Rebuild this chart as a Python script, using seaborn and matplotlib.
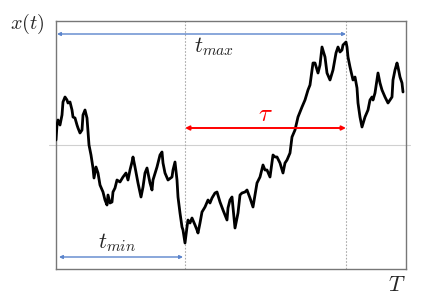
import numpy as np
import pandas as pd
import matplotlib
matplotlib.use("Agg")
import matplotlib.pyplot as plt
import seaborn as sns

# path: t (time), x (position)
t = [0, 1, 2, 4, 6, 7, 9, 11, 12, 14,
     16, 17, 19, 21, 22, 24, 26, 27, 29, 31,
     32, 33, 35, 37, 38, 40, 42, 44, 47, 49,
     51, 52, 54, 56, 57, 59, 61, 64, 67, 70,
     72, 74, 76, 77, 79, 82, 85, 87, 89, 91,
     92, 94, 96, 97, 101, 104, 106, 107, 109, 112,
     116, 117, 119, 121, 122, 124, 126, 127, 129, 131,
     132, 134, 136, 139, 141, 142, 144, 146, 149, 152,
     154, 156, 159, 161, 164, 167, 169, 171, 172, 174,
     176, 179, 182, 184, 186, 189, 191, 194, 197, 199,
     201, 204, 207, 209, 211, 214, 217, 219, 221, 224,
     227, 229, 231, 234, 236, 239, 242, 246, 249, 252,
     254, 256, 257, 259, 262, 264, 266, 269, 271, 274,
     277, 280, 282, 284, 286, 287, 290, 291, 292, 294,
     297, 299, 301, 302, 304, 306, 309, 312, 314, 316,
     317, 319, 321, 322, 324, 326, 329, 332, 334, 336,
     337, 339, 341, 342, 344, 346, 347]
x = [5, 20, 25, 20, 30, 43, 48, 45, 42, 43,
     35, 28, 27, 20, 17, 12, 15, 30, 35, 27,
     13, 0, -10, -23, -33, -22, -28, -40, -47, -55,
     -60, -50, -58, -57, -47, -43, -35, -37, -32, -28,
     -35, -25, -17, -12, -22, -38, -52, -42, -28, -23,
     -28, -38, -45, -35, -22, -10, -7, -18, -28, -35,
     -32, -25, -17, -35, -52, -68, -82, -85, -98, -82,
     -75, -78, -73, -80, -85, -88, -78, -67, -62, -55,
     -58, -53, -48, -47, -57, -65, -70, -75, -63, -55,
     -52, -83, -68, -50, -48, -47, -45, -53, -62, -50,
     -38, -32, -20, -25, -25, -32, -10, -12, -12, -18,
     -28, -18, -15, -8, 8, 15, 28, 38, 45, 55,
     60, 75, 82, 82, 72, 80, 98, 88, 72, 65,
     75, 92, 98, 93, 95, 100, 103, 98, 88, 78,
     65, 68, 57, 42, 28, 18, 28, 35, 45, 48,
     45, 52, 65, 72, 62, 55, 48, 42, 45, 48,
     65, 75, 82, 78, 68, 62, 53]

t_min = 129
t_max = 290
T_end = 350

df = pd.DataFrame({"t": t, "x": x})

sns.set_style("white")
plt.rcParams["mathtext.fontset"] = "cm"

fig = plt.figure(figsize=(4.36, 3.07), dpi=100)
ax = fig.add_axes([56 / 436, 38 / 307, 350 / 436, 248 / 307])

# zero line, a bit wider than the box
ax.plot([-7, T_end + 4], [0, 0], color="#d0d0d0", lw=0.8, clip_on=False, zorder=1)
ax.axvline(t_min, color="#aaaaaa", ls=(0, (1.5, 1.5)), lw=0.8, zorder=1)
ax.axvline(t_max, color="#aaaaaa", ls=(0, (1.5, 1.5)), lw=0.8, zorder=1)

sns.lineplot(data=df, x="t", y="x", estimator=None, sort=False,
             color="black", lw=2.0, ax=ax, zorder=3)

blue = "#5b84cc"
ax.annotate("", xy=(t_max, 111), xytext=(1, 111),
            arrowprops=dict(arrowstyle="<|-|>", color=blue, lw=1.0,
                            mutation_scale=5, shrinkA=0, shrinkB=0))
ax.annotate("", xy=(t_min - 2, -112), xytext=(3, -112),
            arrowprops=dict(arrowstyle="<|-|>", color=blue, lw=1.0,
                            mutation_scale=5, shrinkA=0, shrinkB=0))
ax.annotate("", xy=(t_max, 17), xytext=(t_min, 17),
            arrowprops=dict(arrowstyle="<|-|>", color="red", lw=1.4,
                            mutation_scale=6, shrinkA=0, shrinkB=0))

ax.text(158, 98, r"$t_{max}$", fontsize=16, ha="center", va="center")
ax.text(61, -98, r"$t_{min}$", fontsize=16, ha="center", va="center")
ax.text(209, 31, r"$\tau$", fontsize=18, ha="center", va="center", color="red")
ax.text(-29, 121, r"$x(t)$", fontsize=14.5, ha="center", va="center")
ax.text(341, -140, r"$T$", fontsize=16, ha="center", va="center")

ax.set_xlim(0, T_end)
ax.set_ylim(-124, 124)
ax.set_xticks([])
ax.set_yticks([])
ax.set_xlabel("")
ax.set_ylabel("")
for s in ax.spines.values():
    s.set_color("#777777")
    s.set_linewidth(1.0)

fig.savefig("out.png", dpi=100)
